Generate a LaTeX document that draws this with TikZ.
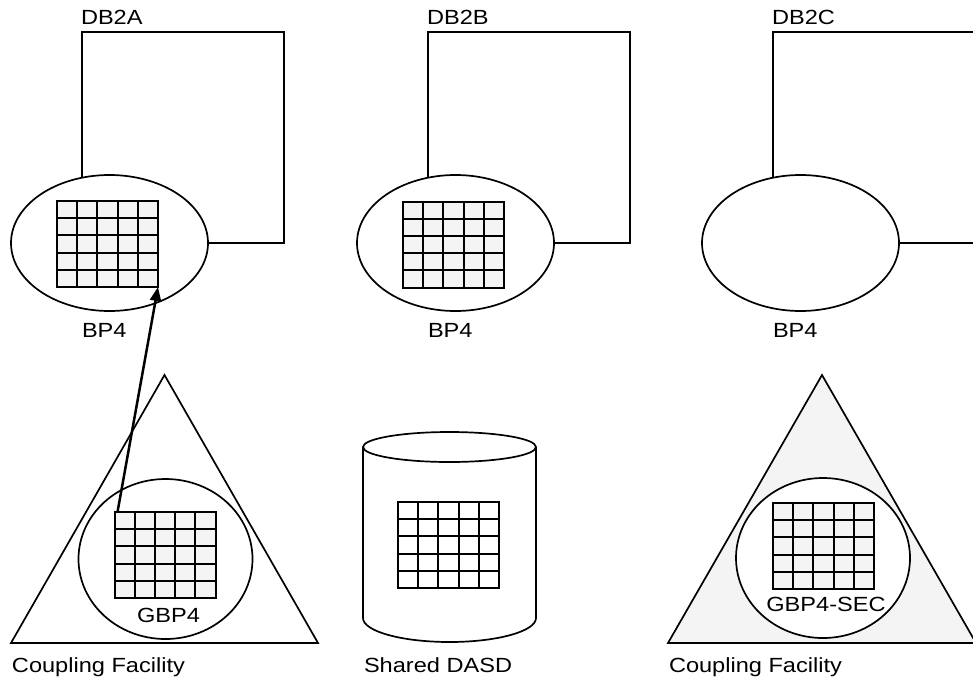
\documentclass[tikz,border=0pt]{standalone}
\usepackage{fontspec}
\setmainfont[FakeStretch=1.15]{Liberation Sans}
\usetikzlibrary{shapes.geometric,calc,arrows.meta}
\begin{document}
\begin{tikzpicture}[x=1pt,y=-1pt,
  every node/.style={inner sep=0pt,outer sep=0pt},
  line/.style={draw=black,line width=1.7pt},
  lbl/.style={font=\fontsize{20.5}{24}\selectfont,anchor=base west},
  clbl/.style={font=\fontsize{20.5}{24}\selectfont,anchor=base},
  pool/.style={ellipse,draw=black,line width=1.7pt,minimum width=197,minimum height=136},
  cfpool/.style={ellipse,draw=black,line width=1.7pt,fill=white,minimum width=174,minimum height=160},
  cellgrid/.style={rectangle,draw=black,line width=2pt,fill=#1,minimum width=101,minimum height=86,
    path picture={
      \foreach \i in {1,...,4}{
        \draw[line width=2pt] ($(path picture bounding box.north west)!\i/5!(path picture bounding box.north east)$) --
          ($(path picture bounding box.south west)!\i/5!(path picture bounding box.south east)$);
        \draw[line width=2pt] ($(path picture bounding box.north west)!\i/5!(path picture bounding box.south west)$) --
          ($(path picture bounding box.north east)!\i/5!(path picture bounding box.south east)$);
      }}},
  cellgrid/.default={gray!9},
  flow/.style={draw=black,line width=2.5pt,-{Triangle[length=14pt,width=11pt]}}
]
\useasboundingbox (0,0) rectangle (973,683);

% ---------- DB2A ----------
\node[lbl] (tA) at (81,24) {DB2A};
\node[pool] (eA) at (109.5,243) {};
\coordinate (eAtop) at (82,177.7);
\draw[line] (eA.east) -- (284,243) -- (284,32) -- (82,32) -- (eAtop);
\node[cellgrid] (gA) at (107.5,244) {};
\node[lbl] (bA) at (82,337) {BP4};

% ---------- DB2B ----------
\node[lbl] (tB) at (427,24) {DB2B};
\node[pool] (eB) at (455.5,243) {};
\coordinate (eBtop) at (428,177.7);
\draw[line] (eB.east) -- (630,243) -- (630,32) -- (428,32) -- (eBtop);
\node[cellgrid] (gB) at (453.5,244.5) {};
\node[lbl] (bB) at (428,337) {BP4};

% ---------- DB2C ----------
\node[lbl] (tC) at (772,24) {DB2C};
\node[pool] (eC) at (800.5,243) {};
\coordinate (eCtop) at (773,177.7);
\begin{scope}
\clip (0,0) rectangle (973,683);
\draw[line] (eC.east) -- (980,243);
\draw[line] (980,32) -- (773,32) -- (eCtop);
\end{scope}
\node[lbl] (bC) at (773,337) {BP4};

% ---------- Coupling facility (primary) ----------
\draw[line,line join=miter] (164.5,375) -- (318,643) -- (11,643) -- cycle;
\node[cfpool] (cA) at (165.5,559) {};
\node[cellgrid] (gGA) at (165,555) {};
\node[clbl] (gbA) at (168.5,622) {GBP4};
\node[lbl] (cfA) at (12,672) {Coupling Facility};

% ---------- Shared DASD ----------
\draw[line] (363,447) -- (363,618) arc[start angle=180,end angle=0,x radius=86.5,y radius=24] -- (536,447);
\node[ellipse,draw=black,line width=1.7pt,minimum width=173,minimum height=30] (cyltop) at (449.5,447) {};
\node[cellgrid=white] (gD) at (448.5,545) {};
\node[lbl] (sd) at (364,672) {Shared DASD};

% ---------- Coupling facility (secondary) ----------
\begin{scope}
\clip (0,0) rectangle (973,683);
\draw[line,fill=gray!9,line join=miter] (822,375) -- (976,643) -- (668,643) -- cycle;
\end{scope}
\node[cfpool] (cC) at (823,558) {};
\node[cellgrid] (gGC) at (823.5,546) {};
\node[clbl] (gbC) at (826,611) {GBP4-SEC};
\node[lbl] (cfC) at (669,672) {Coupling Facility};

% ---------- arrow ----------
\draw[flow] ($(gGA.north west)+(3,0)$) -- (gA.south east);
\end{tikzpicture}
\end{document}
